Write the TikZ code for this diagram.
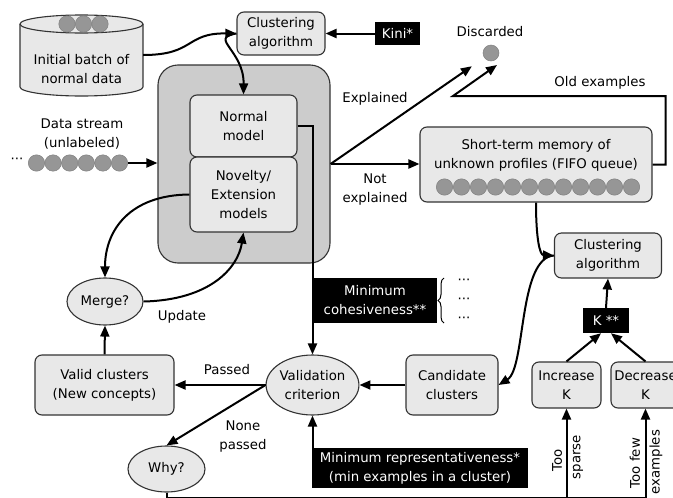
\documentclass[tikz,border=0pt]{standalone}
\usepackage{fontspec}
\setmainfont{DejaVu Sans}
\usetikzlibrary{arrows.meta,shapes.geometric,decorations.pathreplacing}

\definecolor{boxgray}{gray}{0.91}
\definecolor{panelgray}{gray}{0.80}
\definecolor{edgegray}{gray}{0.20}
\definecolor{dotgray}{gray}{0.59}
\definecolor{dotedge}{gray}{0.50}

\begin{document}
\begin{tikzpicture}[x=1pt,y=-1pt,
  every node/.style={font=\fontsize{13.3}{19}\selectfont, inner sep=0pt, align=center},
  box/.style={draw=edgegray, fill=boxgray, line width=1.1pt, rounded corners=7pt},
  darkbox/.style={fill=black, text=white},
  oval/.style={ellipse, draw=edgegray, fill=boxgray, line width=1.1pt},
  dot/.style={circle, fill=dotgray, draw=dotedge, line width=0.5pt, minimum size=16.4pt},
  link/.style={line width=2pt, -{Triangle[length=11pt,width=9pt]}},
  wire/.style={line width=2pt}
]
\useasboundingbox (0,0) rectangle (673,498);

% ---- initial batch (cylinder) ----
\fill[boxgray] (81.5,87) ellipse[x radius=61.5, y radius=9];
\fill[boxgray] (20,24) rectangle (143,87);
\draw[edgegray, line width=1.1pt] (20,24) -- (20,87)
  .. controls (20,91.97) and (47.5,96) .. (81.5,96)
  .. controls (115.5,96) and (143,91.97) .. (143,87) -- (143,24);
\draw[edgegray, fill=boxgray, line width=1.1pt] (81.5,24) ellipse[x radius=61.5, y radius=9];
\node[dot] (b1) at (67,24) {};
\node[dot] (b2) at (83.5,24) {};
\node[dot] (b3) at (100,24) {};
\node[minimum width=123pt, minimum height=72pt] (init) at (81.5,55) {};
\node at (81.5,69) {Initial batch of\\normal data};

% ---- top clustering ----
\node[box, minimum width=88pt, minimum height=43pt] (clustA) at (281,33.5) {Clustering\\algorithm};
\node[darkbox, minimum width=45pt, minimum height=23pt] (kini) at (397.5,33.5) {Kini*};

% ---- discarded ----
\node (disclbl) at (490,32) {Discarded};
\node[circle, fill=dotgray, draw=dotedge, line width=0.5pt, minimum size=16pt] (discard) at (491,53) {};

% ---- model panel ----
\node[draw=edgegray, fill=panelgray, line width=1.1pt, rounded corners=20pt,
      minimum width=172pt, minimum height=198pt] (panel) at (244,164) {};
\node[box, minimum width=107pt, minimum height=62pt] (normal) at (243.5,126) {Normal\\model};
\node[box, minimum width=107pt, minimum height=75pt] (novelty) at (243.5,194.5) {Novelty/\\Extension\\models};

% ---- data stream ----
\node at (82,134) {Data stream\\(unlabeled)};
\node (sdots) at (17,161) {\textperiodcentered\textperiodcentered\textperiodcentered};
\foreach \i in {0,...,5} {
  \node[dot] (s\i) at ({36.5+16.6*\i},163) {};
}

% ---- short-term memory ----
\node[box, minimum width=232pt, minimum height=75pt] (fifo) at (536,164.5) {};
\node at (536,155) {Short-term memory of\\unknown profiles (FIFO queue)};
\foreach \i in {0,...,11} {
  \node[dot] (q\i) at ({444.5+17*\i},187) {};
}

% ---- right clustering and K ----
\node[box, minimum width=107pt, minimum height=45pt] (clustB) at (608,255.5) {Clustering\\algorithm};
\node[darkbox, minimum width=46pt, minimum height=25pt] (kk) at (606,320.5) {K **};
\node[box, minimum width=69pt, minimum height=46pt] (inc) at (566.5,385) {Increase\\K};
\node[box, minimum width=69pt, minimum height=46pt] (dec) at (645.5,385) {Decrease\\K};

% ---- validation row ----
\node[box, minimum width=139pt, minimum height=60pt] (valid) at (104.5,385) {Valid clusters\\(New concepts)};
\node[oval, minimum width=91pt, minimum height=60pt] (valcrit) at (312.5,385) {Validation\\criterion};
\node[box, minimum width=92pt, minimum height=60pt] (cand) at (452,385) {Candidate\\clusters};
\node[oval, minimum width=76pt, minimum height=47pt] (merge) at (105,301.5) {Merge?};
\node[oval, minimum width=77pt, minimum height=46pt] (why) at (166.5,469) {Why?};

% ---- thresholds ----
\node[darkbox, minimum width=124pt, minimum height=45pt] (cohes) at (375,300.5) {Minimum\\cohesiveness**};
\node[darkbox, minimum width=216pt, minimum height=40pt] (repr) at (420,468) {Minimum representativeness*\\(min examples in a cluster)};
\draw[decorate, decoration={brace, amplitude=6pt}, line width=1pt] (444,323) -- (444,278);
\node (c1) at (464,282) {\textperiodcentered\textperiodcentered\textperiodcentered};
\node (c2) at (464,301) {\textperiodcentered\textperiodcentered\textperiodcentered};
\node (c3) at (464,320) {\textperiodcentered\textperiodcentered\textperiodcentered};

% ---- labels ----
\node at (375,99) {Explained};
\node at (375,190) {Not\\explained};
\node at (600,83) {Old examples};
\node at (182,317) {Update};
\node at (227,370) {Passed};
\node at (243,437) {None\\passed};
\node[rotate=90] at (557,460) {Too};
\node[rotate=90] at (578,457) {sparse};
\node[rotate=90] at (635,463) {Too few};
\node[rotate=90] at (656,462) {examples};

% ---- connectors ----
\coordinate (oldturn) at (453,96);
\coordinate (oldtip) at (497,65);
\coordinate (bl) at (166.5,498);
\coordinate (bi) at (566.5,498);
\coordinate (bd) at (645.5,498);

\draw[link] (init.east) .. controls (195,55) and (185,33) .. (clustA.west);
\draw[link] (clustA.west) .. controls (208,38) and (244,50) .. (normal.north);
\draw[link] (kini.west) -- (clustA.east);
\draw[link] (s5.east) -- (panel.west |- s5.east);
\draw[link] (panel.east) -- (fifo.west |- panel.east);
\draw[link, shorten >=15pt] (panel.east) -- (discard);
\draw[link] (fifo.east) -- ++(13,0) |- (oldturn) -- (oldtip);
\draw[link] (fifo.south) .. controls (536,240) and (540,255) .. (clustB.west);
\draw[link] (clustB.west) .. controls (518,258) and (526,368) .. (cand.east);
\draw[link] (kk.north) -- (clustB.south);
\draw[link] (inc.north) -- ([xshift=-5pt]kk.south);
\draw[link] (dec.north) -- ([xshift=5pt]kk.south);
\draw[link] (normal.east) -| (valcrit.north);
\draw[link] (cand.west) -- (valcrit.east);
\draw[link] (valcrit.west) -- (valid.east);
\draw[link] (valcrit.west) -- (why.north);
\draw[link] (valcrit.south |- repr.north) -- (valcrit.south);
\draw[link] (valid.north) -- (merge.south);
\draw[link] (novelty.west) .. controls (130,195) and (105,230) .. (merge.north);
\draw[link] (merge.east) .. controls (210,300) and (238,268) .. (novelty.south);
\draw[wire] (why.south) |- (bd);
\draw[link] (bi) -- (inc.south);
\draw[link] (bd) -- (dec.south);
\end{tikzpicture}
\end{document}
